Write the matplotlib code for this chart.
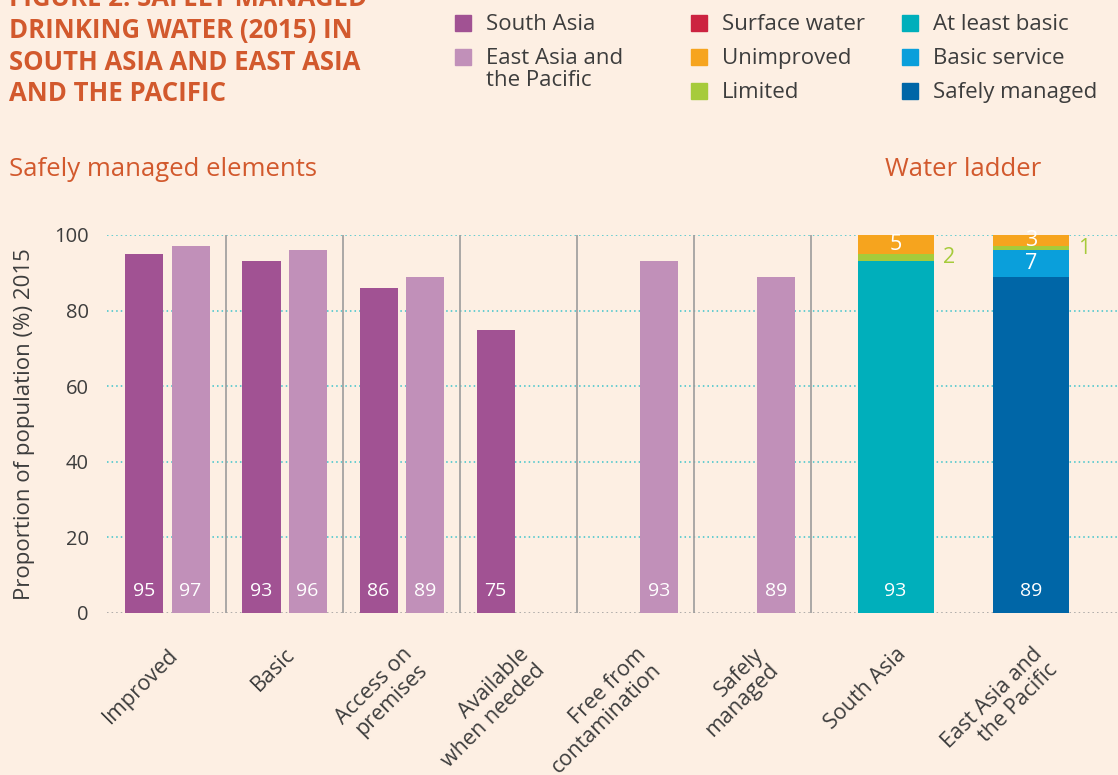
import matplotlib
matplotlib.use("Agg")
import numpy as np
import matplotlib.pyplot as plt
from matplotlib.patches import Rectangle
from matplotlib.transforms import ScaledTranslation

plt.rcParams['font.family'] = ['Open Sans', 'DejaVu Sans']

# ---------------- data ----------------
categories = ["Improved", "Basic", "Access on\npremises", "Available\nwhen needed",
              "Free from\ncontamination", "Safely\nmanaged"]
south_asia = [95, 93, 86, 75, None, None]
east_asia_pacific = [97, 96, 89, None, 93, 89]

ladder_regions = ["South Asia", "East Asia and\nthe Pacific"]
ladder_at_least_basic = [93, 0]
ladder_safely_managed = [0, 89]
ladder_basic_service = [0, 7]
ladder_limited = [2, 1]
ladder_unimproved = [5, 3]
ladder_surface_water = [0, 0]

yticks = [0, 20, 40, 60, 80, 100]

# ---------------- style ----------------
BG = '#FDEFE3'
TITLE_C = '#D2592D'
TEXT_C = '#3d3d3d'
C_SA = '#A15293'
C_EAP = '#C190B9'
C_SURF = '#CC2340'
C_UNIMP = '#F6A41E'
C_LIM = '#A6CB3B'
C_ALB = '#00AFBB'
C_BASIC = '#0A9FDB'
C_SAFE = '#0066A7'
GRID_C = '#3CC3CB'

W, H = 1118, 775
def fx(px): return px / W
def fy(py): return 1 - py / H

fig = plt.figure(figsize=(W / 100, H / 100), dpi=100, facecolor=BG)
ax = fig.add_axes([fx(107), fy(613), fx(1118) - fx(107), (613 - 235) / H])
ax.set_facecolor(BG)
ax.set_xlim(-0.517, 8.12)
ax.set_ylim(0, 100)
for s in ax.spines.values():
    s.set_visible(False)

# gridlines
for t in yticks[1:]:
    ax.axhline(t, color=GRID_C, lw=1.1, linestyle=(0, (1, 2)), zorder=1)
ax.axhline(0, color='#9a9a9a', lw=1.1, linestyle=(0, (1, 2)), zorder=1)

# separators
for b in np.arange(len(categories)) + 0.5:
    ax.plot([b, b], [0, 100], color='#9c9c9c', lw=1.2, zorder=1, solid_capstyle='butt')

x = np.arange(len(categories))
off, bw = 0.197, 0.325
for i in range(len(categories)):
    for vals, sign, col in ((south_asia, -1, C_SA), (east_asia_pacific, 1, C_EAP)):
        v = vals[i]
        if v is None:
            continue
        xc = x[i] + sign * off
        ax.bar(xc, v, width=bw, color=col, zorder=2)
        ax.text(xc, 5.8, str(v), color='white', fontsize=14, ha='center', va='center', zorder=3)

# ladder stacked bars
lx = np.array([6.22, 7.38])
lw_ = 0.65
stack = [(ladder_at_least_basic, C_ALB), (ladder_safely_managed, C_SAFE),
         (ladder_basic_service, C_BASIC), (ladder_limited, C_LIM),
         (ladder_unimproved, C_UNIMP), (ladder_surface_water, C_SURF)]
bottom = np.zeros(2)
for vals, col in stack:
    v = np.array(vals, dtype=float)
    ax.bar(lx, v, width=lw_, bottom=bottom, color=col, zorder=2)
    for j in range(2):
        if v[j] <= 0:
            continue
        if v[j] >= 50:
            ax.text(lx[j], 5.8, str(int(v[j])), color='white', fontsize=14,
                    ha='center', va='center', zorder=3)
        elif v[j] >= 3:
            ax.text(lx[j], bottom[j] + v[j] / 2, str(int(v[j])), color='white',
                    fontsize=15.5, ha='center', va='center', zorder=3)
        else:
            ax.text(lx[j] + lw_ / 2 + 0.128, bottom[j] + v[j] / 2, str(int(v[j])),
                    color=C_LIM, fontsize=15.5, ha='center', va='center', zorder=3)
    bottom += v

# y axis
ax.set_yticks(yticks)
ax.set_yticklabels([str(t) for t in yticks], fontsize=14.5, color=TEXT_C)
ax.tick_params(axis='y', length=0, pad=13)
ax.set_xticks([])
fig.text(fx(25), fy(424), "Proportion of population (%) 2015", rotation=90,
         ha='center', va='center', fontsize=16, color=TEXT_C)

# x labels
lab_off = ScaledTranslation(0 / 100, -31 / 100, fig.dpi_scale_trans)
for xi, lab in zip(list(x) + list(lx), categories + ladder_regions):
    ax.text(xi, 0, lab, transform=ax.transData + lab_off, rotation=45,
            rotation_mode='anchor', ha='right', va='top', multialignment='right',
            fontsize=15.5, color=TEXT_C, linespacing=1.05)

# titles
title_lines = ["FIGURE 2: SAFELY MANAGED", "DRINKING WATER (2015) IN",
               "SOUTH ASIA AND EAST ASIA", "AND THE PACIFIC"]
for k, line in enumerate(title_lines):
    fig.text(fx(9), fy(-1 + 31.5 * k), line, fontsize=18.5, fontweight='bold',
             color=TITLE_C, ha='left', va='center')
fig.text(fx(9), fy(169), "Safely managed elements", fontsize=18.5, color=TITLE_C,
         ha='left', va='center')
fig.text(fx(963), fy(169), "Water ladder", fontsize=18.5, color=TITLE_C,
         ha='center', va='center')

# legend
leg = [
    (455, 23, C_SA, "South Asia"),
    (455, 57, C_EAP, "East Asia and\nthe Pacific"),
    (691, 23, C_SURF, "Surface water"),
    (691, 57, C_UNIMP, "Unimproved"),
    (691, 91, C_LIM, "Limited"),
    (902, 23, C_ALB, "At least basic"),
    (902, 57, C_BASIC, "Basic service"),
    (902, 91, C_SAFE, "Safely managed"),
]
for px, py, col, lab in leg:
    fig.patches.append(Rectangle((fx(px), fy(py + 8)), 16 / W, 16 / H,
                                 transform=fig.transFigure, color=col))
    fig.text(fx(px + 31), fy(py - 9), lab, fontsize=16, color=TEXT_C,
             ha='left', va='top', linespacing=1.05)

fig.savefig("out.png", dpi=100, facecolor=BG)
